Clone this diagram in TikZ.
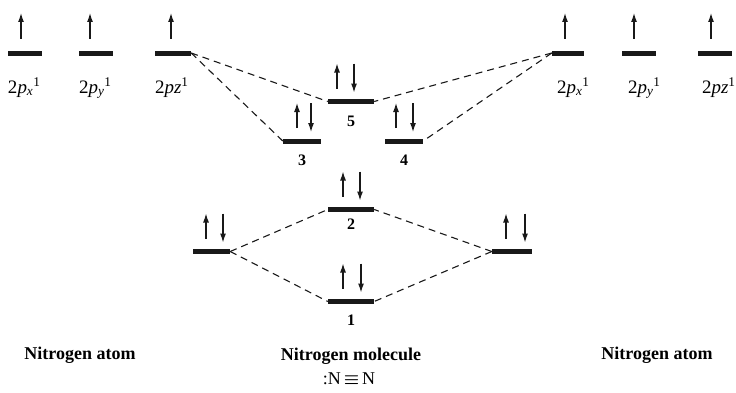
\documentclass[tikz,border=0pt]{standalone}
\usepackage{fontspec}
\setmainfont{Liberation Serif}
\usetikzlibrary{positioning, arrows.meta}
\definecolor{tinta}{RGB}{25, 25, 25}
\tikzset{
    lvl/.style={rectangle, fill=tinta, inner sep=0pt, minimum height=5pt},
    spin/.style={-{Latex[length=9pt, width=6pt]}, tinta, line width=1.2pt},
    corr/.style={-, tinta, line width=1.1pt, dash pattern=on 7pt off 5pt},
    orb/.style={inner sep=0pt, font=\fontsize{19}{21}\selectfont, anchor=base west},
    num/.style={inner sep=0pt, font=\fontsize{16}{18}\selectfont\bfseries},
    title/.style={inner sep=0pt, font=\fontsize{18}{20}\selectfont\bfseries},
}
\newcommand{\spinone}[2]{\draw[spin] ([xshift=#2pt]#1.center) ++(0,14) -- ++(0,26);}
\newcommand{\spinpair}[3]{%
    \draw[spin] ([xshift=#2pt]#1.center) ++(0,13) -- ++(0,25);
    \draw[spin] ([xshift=#3pt]#1.center) ++(0,38) -- ++(0,-29);}
\begin{document}
\begin{tikzpicture}[x=1pt, y=1pt]
    \useasboundingbox (0,0) rectangle (736,392);

    \node[lvl, minimum width=34pt] (lpx) at (25,339) {};
    \node[lvl, minimum width=34pt] (lpy) at (96,339) {};
    \node[lvl, minimum width=36pt] (lpz) at (173,339) {};
    \node[lvl, minimum width=32pt] (rpx) at (568,339) {};
    \node[lvl, minimum width=34pt] (rpy) at (639,339) {};
    \node[lvl, minimum width=34pt] (rpz) at (715,339) {};

    \node[lvl, minimum width=46pt] (mo5) at (351,290.5) {};
    \node[lvl, minimum width=38pt] (mo3) at (302,251) {};
    \node[lvl, minimum width=38pt] (mo4) at (404,251) {};
    \node[lvl, minimum width=46pt] (mo2) at (351,182.5) {};
    \node[lvl, minimum width=46pt] (mo1) at (351,90.5) {};
    \node[lvl, minimum width=37pt] (ls) at (211.5,140.5) {};
    \node[lvl, minimum width=40pt] (rs) at (512,140.5) {};

    \spinone{lpx}{-4}
    \spinone{lpy}{-6}
    \spinone{lpz}{-2}
    \spinone{rpx}{-3}
    \spinone{rpy}{-5}
    \spinone{rpz}{-4}
    \spinpair{mo5}{-14}{3}
    \spinpair{mo3}{-5}{9}
    \spinpair{mo4}{-8}{9}
    \spinpair{mo2}{-8}{9}
    \spinpair{mo1}{-8}{10}
    \spinpair{ls}{-5.5}{11.5}
    \spinpair{rs}{-6}{13}

    \node[orb] (tlpx) at ([yshift=-40pt]lpx.west) {2\textit{p}\textsubscript{\textit{x}}\textsuperscript{1}};
    \node[orb] (tlpy) at ([yshift=-40pt]lpy.west) {2\textit{p}\textsubscript{\textit{y}}\textsuperscript{1}};
    \node[orb] (tlpz) at ([yshift=-40pt]lpz.west) {2\textit{pz}\textsuperscript{1}};
    \node[orb] (trpx) at ([xshift=5pt, yshift=-40pt]rpx.west) {2\textit{p}\textsubscript{\textit{x}}\textsuperscript{1}};
    \node[orb] (trpy) at ([xshift=6pt, yshift=-40pt]rpy.west) {2\textit{p}\textsubscript{\textit{y}}\textsuperscript{1}};
    \node[orb] (trpz) at ([xshift=4pt, yshift=-40pt]rpz.west) {2\textit{pz}\textsuperscript{1}};

    \node[num, below=12pt of mo5] (n5) {5};
    \node[num, below=11pt of mo3] (n3) {3};
    \node[num, below=11pt of mo4] (n4) {4};
    \node[num, below=7pt of mo2] (n2) {2};
    \node[num, below=11pt of mo1] (n1) {1};

    \draw[corr] (lpz.east) -- (mo5.west);
    \draw[corr] (lpz.east) -- (mo3.west);
    \draw[corr] (rpx.west) -- (mo5.east);
    \draw[corr] (rpx.west) -- (mo4.east);
    \draw[corr] (ls.east) -- (mo2.west);
    \draw[corr] (ls.east) -- (mo1.west);
    \draw[corr] (rs.west) -- (mo2.east);
    \draw[corr] (rs.west) -- (mo1.east);

    \node[title] (atl) at (80,37) {Nitrogen atom};
    \node[title] (mol) at (351,36) {Nitrogen molecule};
    \node[title] (atr) at (657,37) {Nitrogen atom};
    \node[inner sep=0pt, font=\fontsize{18}{20}\selectfont] (form) at (349,13) {:N\,{\boldmath$\equiv$}\,N};
\end{tikzpicture}
\end{document}
